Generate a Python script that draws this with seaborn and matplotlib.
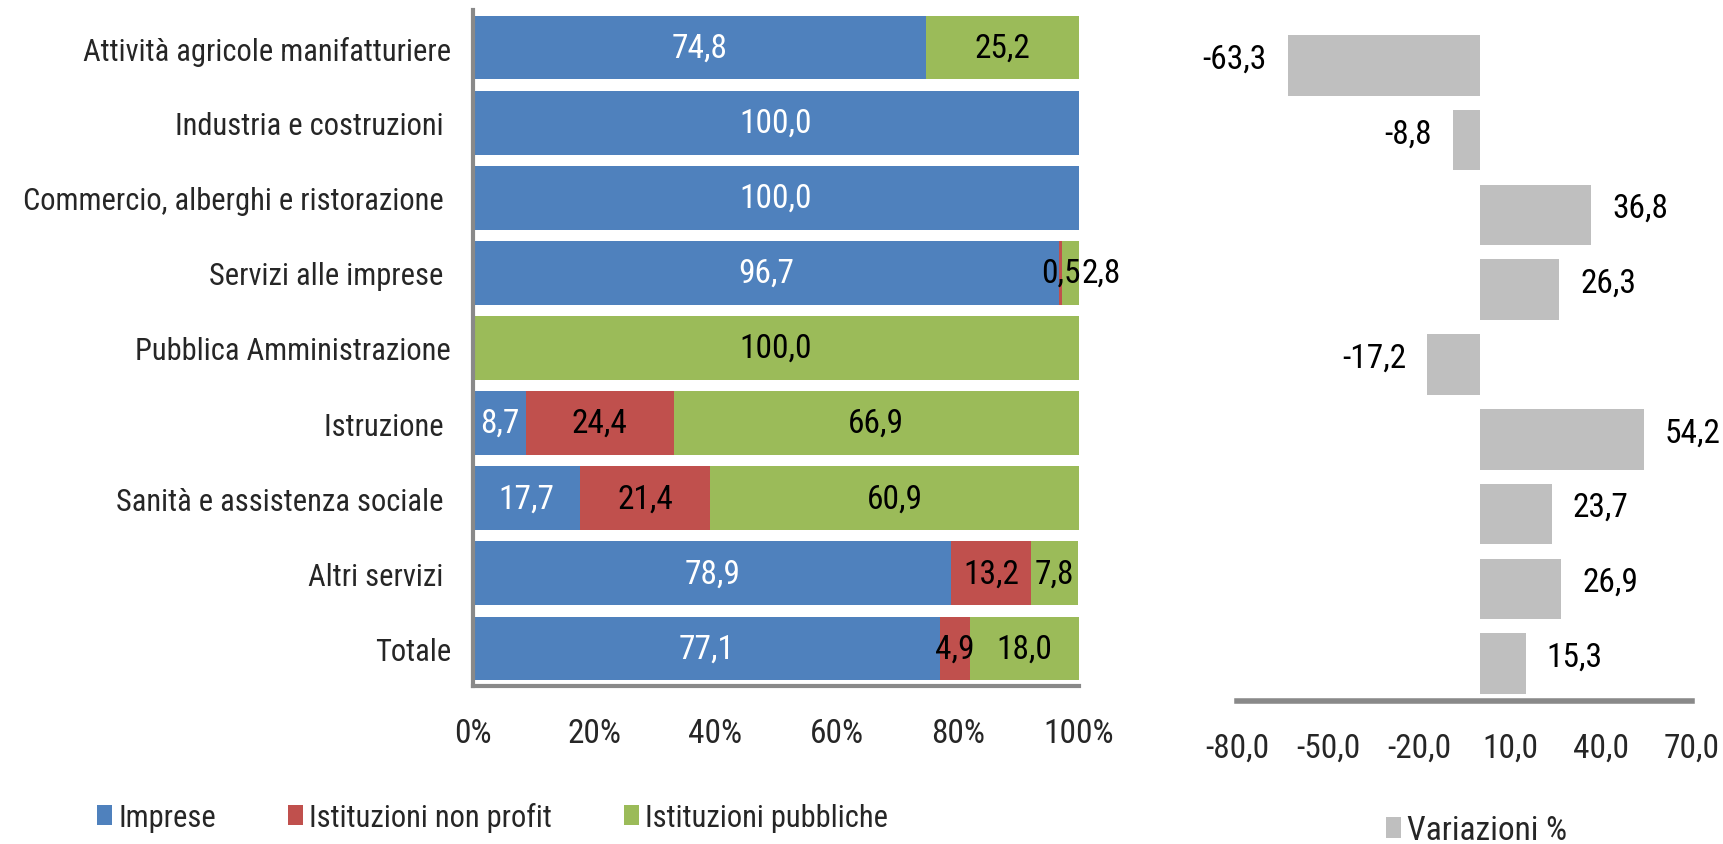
import matplotlib
matplotlib.use("Agg")
import matplotlib.pyplot as plt
import seaborn as sns
import numpy as np
from matplotlib.patches import Patch

# Dati
categorie = [
    "Attività agricole manifatturiere",
    "Industria e costruzioni ",
    "Commercio, alberghi e ristorazione ",
    "Servizi alle imprese ",
    "Pubblica Amministrazione",
    "Istruzione ",
    "Sanità e assistenza sociale ",
    "Altri servizi ",
    "Totale",
]
imprese = [74.8, 100.0, 100.0, 96.7, 0.0, 8.7, 17.7, 78.9, 77.1]
non_profit = [0.0, 0.0, 0.0, 0.5, 0.0, 24.4, 21.4, 13.2, 4.9]
pubbliche = [25.2, 0.0, 0.0, 2.8, 100.0, 66.9, 60.9, 7.8, 18.0]
variazioni = [-63.3, -8.8, 36.8, 26.3, -17.2, 54.2, 23.7, 26.9, 15.3]

serie = ["Imprese", "Istituzioni non profit", "Istituzioni pubbliche"]
colori = ["#4F81BD", "#C0504D", "#9BBB59"]
grigio = "#BFBFBF"

sns.set_theme(style="white")
plt.rcParams["font.family"] = ["Roboto Condensed", "DejaVu Sans"]
FS = 24      # etichette dati e assi x
FS_CAT = 22  # nomi delle categorie e legenda di sinistra


def fmt(v):
    return f"{v:.1f}".replace(".", ",")


fig = plt.figure(figsize=(17.24, 8.45), dpi=100)
ax1 = fig.add_axes([0.2744, 0.187, 0.3515, 0.800])
ax2 = fig.add_axes([0.7175, 0.1692, 0.2639, 0.7965])

# --- barre in pila (sovrapposte, dalla somma totale in giù) ---
imp = np.array(imprese)
npf = np.array(non_profit)
pub = np.array(pubbliche)
livelli = [imp + npf + pub, imp + npf, imp]
for vals, col in zip(livelli, colori[::-1]):
    sns.barplot(x=vals, y=categorie, orient="h", color=col, saturation=1,
                width=0.85, linewidth=0, ax=ax1)

for i in range(len(categorie)):
    left = 0.0
    for j, vals in enumerate([imp, npf, pub]):
        v = vals[i]
        if v > 0:
            c = "white" if j == 0 else "black"
            if j == 2 and v < 5:
                ax1.annotate(fmt(v), xy=(left + v, i), xytext=(2, 0),
                             textcoords="offset points", ha="left", va="center",
                             fontsize=FS, color=c)
            else:
                ax1.text(left + v / 2, i, fmt(v), ha="center", va="center",
                         fontsize=FS, color=c)
        left += v

ax1.set_xlim(0, 100)
ax1.set_xticks(range(0, 101, 20))
ax1.set_xticklabels([f"{t}%" for t in range(0, 101, 20)])
ax1.set_xlabel("")
ax1.set_ylabel("")
ax1.tick_params(axis="y", length=0, pad=16, labelsize=FS_CAT)
ax1.tick_params(axis="x", length=0, pad=22, labelsize=FS)
for s in ["top", "right"]:
    ax1.spines[s].set_visible(False)
for s in ["left", "bottom"]:
    ax1.spines[s].set_color("#898989")
    ax1.spines[s].set_linewidth(3)

# --- variazioni % ---
sns.barplot(x=variazioni, y=categorie, orient="h", color=grigio, saturation=1,
            width=0.81, linewidth=0, ax=ax2)
for i, v in enumerate(variazioni):
    off = 15 if v > 0 else -15
    ax2.annotate(fmt(v), xy=(v, i), xytext=(off, 5), textcoords="offset points",
                 ha="left" if v > 0 else "right", va="center", fontsize=FS,
                 color="black")
ax2.set_xlim(-80, 70)
ax2.set_xticks(range(-80, 71, 30))
ax2.set_xticklabels([fmt(t) for t in range(-80, 71, 30)])
ax2.set_yticks([])
ax2.set_xlabel("")
ax2.set_ylabel("")
ax2.tick_params(axis="x", length=0, pad=22, labelsize=FS)
for s in ["top", "right", "left"]:
    ax2.spines[s].set_visible(False)
ax2.spines["bottom"].set_color("#898989")
ax2.spines["bottom"].set_linewidth(4)

# --- legende ---
handles = [Patch(facecolor=c, edgecolor="none") for c in colori]
fig.legend(handles, serie, loc="center left", bbox_to_anchor=(97 / 1724, 1 - 818 / 845),
           ncol=3, frameon=False, fontsize=FS_CAT, handlelength=0.5, handleheight=0.62,
           handletextpad=0.2, columnspacing=2.35, borderpad=0, borderaxespad=0)
fig.legend([Patch(facecolor=grigio, edgecolor="none")], ["Variazioni %"],
           loc="center left", bbox_to_anchor=(1386 / 1724, 1 - 831 / 845),
           frameon=False, fontsize=FS, handlelength=0.45, handleheight=0.58,
           handletextpad=0.18, borderpad=0, borderaxespad=0)

fig.savefig("out.png", dpi=100)
